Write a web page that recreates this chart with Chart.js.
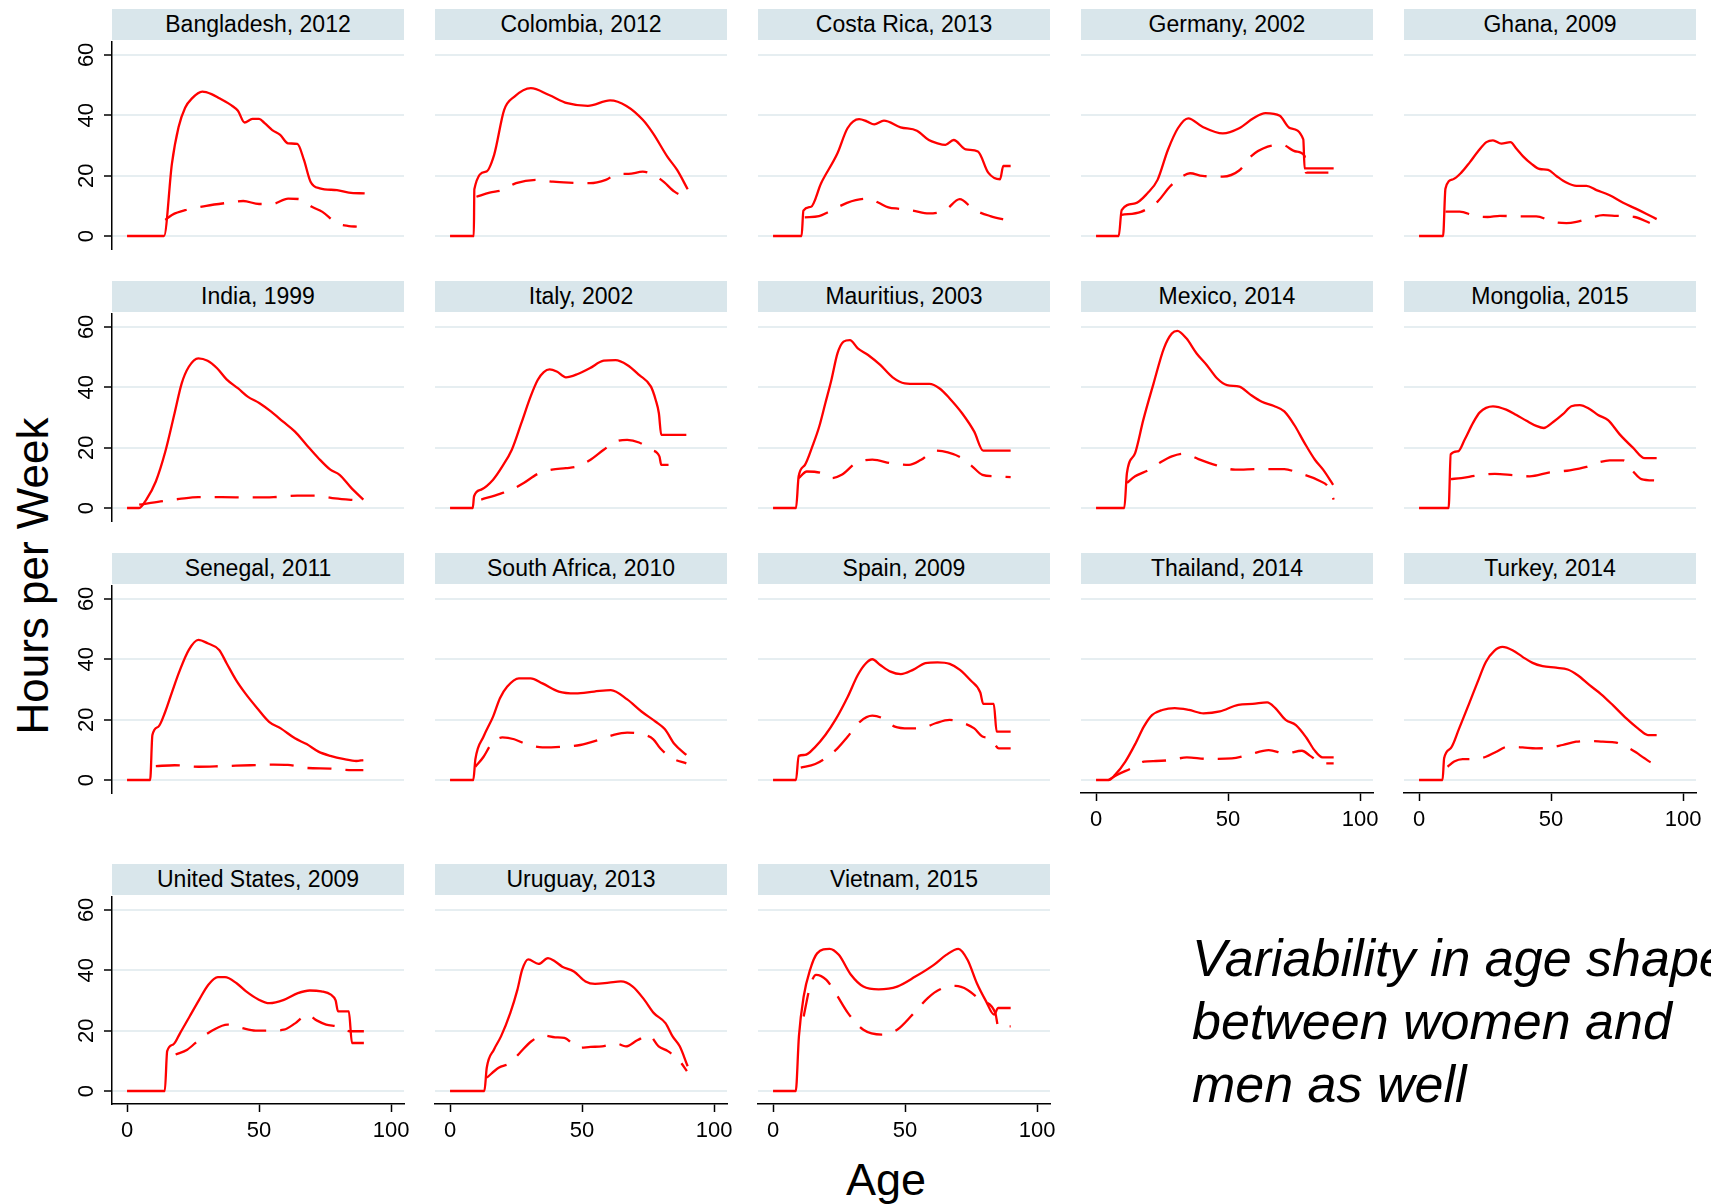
<!DOCTYPE html>
<html>
<head>
<meta charset="utf-8">
<title>Hours per Week by Age</title>
<script src="https://cdn.jsdelivr.net/npm/chart.js@4.4.1/dist/chart.umd.min.js"></script>
<style>
    html, body { margin: 0; padding: 0; background: #fff; }
    body {
        width: 1711px; height: 1204px; position: relative; overflow: hidden;
        font-family: "Liberation Sans", Arial, sans-serif; color: #000;
    }
    .strip {
        position: absolute; height: 31px; line-height: 31px;
        background: #d9e6eb; text-align: center; font-size: 23px; white-space: nowrap;
    }
    canvas { position: absolute; }
    .ytitle {
        position: absolute; left: -167px; top: 554px; width: 400px;
        font-size: 44px; line-height: 44px; text-align: center;
        transform: rotate(-90deg); white-space: nowrap;
    }
    .xtitle {
        position: absolute; left: 786px; top: 1157px; width: 200px;
        font-size: 45px; line-height: 45px; text-align: center;
    }
    .note {
        position: absolute; left: 1192px; top: 927px;
        font-size: 52px; line-height: 63px; font-style: italic; white-space: nowrap;
    }
</style>
</head>
<body>
<div class="ytitle">Hours per Week</div>
<div class="xtitle">Age</div>
<div class="note">Variability in age shape<br>between women and<br>men as well</div>
<script>
// ---- data (ages and hours per week) ----
const TITLES = [
    'Bangladesh, 2012', 'Colombia, 2012', 'Costa Rica, 2013', 'Germany, 2002', 'Ghana, 2009',
    'India, 1999', 'Italy, 2002', 'Mauritius, 2003', 'Mexico, 2014', 'Mongolia, 2015',
    'Senegal, 2011', 'South Africa, 2010', 'Spain, 2009', 'Thailand, 2014', 'Turkey, 2014',
    'United States, 2009', 'Uruguay, 2013', 'Vietnam, 2015'
];
const Y_TICKS = [0, 20, 40, 60];
const X_TICKS = [0, 50, 100];

// solid line = men, dashed line = women
const bangladeshSolidAge = [0, 14, 17, 19.5, 22, 24.5, 28.5, 32, 35, 40, 42, 44.5, 47.5, 50, 52, 55, 58, 61, 64.5, 67, 69.5, 73, 79.5, 84, 90];
const bangladeshSolid = [0, 0, 24, 36, 42.5, 45.5, 47.8, 47, 45.6, 43, 41.5, 37.6, 38.8, 38.8, 37.5, 35.1, 33.5, 30.7, 30.5, 25.2, 18, 15.8, 15.2, 14.4, 14.1];
const bangladeshDashAge = [14.5, 17, 23, 30, 38, 44, 50, 55, 61, 65.5, 70, 74, 79.5, 84, 87];
const bangladeshDash = [5.3, 7, 8.8, 10, 11, 11.6, 10.6, 10.6, 12.4, 12.2, 9.7, 8, 4.2, 3.3, 3.1];

const colombiaSolidAge = [0, 9, 9.2, 13.6, 16.7, 20.5, 24.4, 30.6, 37.5, 44.4, 52.2, 60.6, 66.8, 73, 76.9, 82.3, 86, 90];
const colombiaSolid = [0, 0, 15.5, 21.3, 26.9, 41.8, 46.2, 49, 46.7, 44, 43.1, 44.9, 43.1, 38.5, 34, 26.3, 21.9, 15.5];
const colombiaDashAge = [10, 15, 19.8, 25, 32.9, 39, 45, 53, 59, 63.7, 67.6, 73, 80, 85, 90];
const colombiaDash = [13, 14.4, 15.2, 17.5, 18.6, 18, 17.7, 17.5, 18.6, 20.6, 20.6, 21.3, 18.6, 14.7, 12.5];

const costaRicaSolidAge = [0, 10.8, 11.5, 14.4, 18.2, 24.4, 28.2, 32.6, 35.5, 38.3, 42, 48.3, 54.5, 59, 62, 65.3, 68.4, 73, 77.6, 81.5, 86, 87.2, 90];
const costaRicaSolid = [0, 0, 8.4, 9.7, 17.5, 27.4, 35.7, 38.7, 38, 37, 38.2, 36, 34.9, 31.8, 30.8, 30.2, 31.8, 28.7, 28, 21, 18.8, 23.2, 23.2];
const costaRicaDashAge = [12, 17.4, 21, 24.4, 28, 31.3, 36, 40, 43.7, 48, 53, 59, 65.3, 70.7, 76, 82.3, 89.2];
const costaRicaDash = [6.2, 6.6, 8, 9.5, 11, 11.9, 12.4, 11, 9.5, 9, 8.4, 7.5, 8.6, 12.2, 8.8, 6.6, 5.1];

const germanySolidAge = [0, 8.6, 9.7, 14.8, 19.4, 23.3, 27.2, 31, 34.9, 40.3, 48, 54.2, 59.6, 64.2, 69.6, 73.5, 78.5, 79, 90];
const germanySolid = [0, 0, 8.6, 10.8, 14.1, 18.6, 28.5, 35.7, 39, 36.2, 34, 35.7, 39, 40.7, 39.8, 35.7, 32, 22.4, 22.4];
const germanyDashAge = [9.7, 17, 23.3, 28, 32.6, 35.6, 40.3, 48, 54.2, 58.8, 65, 70.4, 75.8, 79, 79.5, 88];
const germanyDash = [7, 8, 11.4, 16.4, 19.7, 20.8, 19.9, 19.7, 21.7, 26.5, 29.6, 30.2, 28, 26.5, 21, 21];

const ghanaSolidAge = [0, 9.1, 10, 12.9, 16, 19.2, 22.3, 25.5, 28, 31.2, 34.6, 36.9, 39.4, 42.6, 45.7, 48.9, 52, 55.8, 59.6, 63.4, 67.2, 72.2, 77.3, 82.3, 86, 90];
const ghanaSolid = [0, 0, 15.7, 18.8, 21, 24.4, 28, 31.1, 31.7, 30.6, 31.1, 28.9, 26.4, 23.9, 22.2, 21.9, 19.9, 17.7, 16.6, 16.6, 15.2, 13.5, 11, 9, 7.4, 5.6];
const ghanaDashAge = [10, 15.4, 21, 26, 30.6, 36.9, 44.4, 50.8, 55.8, 59.6, 64.6, 69.7, 74.7, 81.7, 87.4];
const ghanaDash = [8.1, 8.1, 6.7, 6.3, 6.7, 6.5, 6.5, 4.7, 4.3, 4.7, 5.9, 6.9, 6.7, 6.3, 4.3];

const indiaSolidAge = [0, 4.6, 7.3, 10.9, 14.5, 18, 20.7, 23.4, 27, 30.5, 34.1, 37.7, 42.1, 45.7, 50.2, 54.6, 59.1, 63.6, 68, 72.5, 77, 80.5, 85, 89.5];
const indiaSolid = [0, 0, 2.8, 8.8, 18.7, 31.4, 41.3, 46.8, 49.6, 48.8, 46.3, 42.6, 39.6, 36.9, 34.7, 31.9, 28.6, 25.3, 20.9, 16.5, 12.7, 11, 6.6, 2.8];
const indiaDashAge = [4.6, 12.7, 19.8, 27, 35.9, 46.6, 55.5, 64.5, 71.6, 78.8, 87.7];
const indiaDash = [1.1, 2.2, 3, 3.6, 3.6, 3.5, 3.6, 4.1, 4.1, 3.2, 2.5];

const italySolidAge = [0, 8.6, 9.1, 11.8, 16.3, 19.8, 23.4, 27, 30.5, 33.2, 35.5, 37.7, 40.4, 43.9, 48.4, 52.9, 58.2, 62.7, 67.1, 71.6, 76.1, 77.9, 79.1, 80, 89.5];
const italySolid = [0, 0, 3.9, 6.1, 9.4, 13.8, 19.3, 28.1, 36.9, 42.4, 45, 45.9, 45.2, 43.3, 44.4, 46.3, 48.8, 49, 47.4, 44.1, 40.2, 35.8, 31.4, 24.2, 24.2];
const italyDashAge = [11.8, 18.9, 23.4, 27.9, 33.2, 38.6, 43.9, 48.4, 52.9, 58.2, 62.7, 67.1, 71.6, 76.1, 79.3, 80, 85.9];
const italyDash = [2.8, 4.7, 6.1, 8.3, 11.3, 12.7, 13.2, 13.8, 15.8, 19.3, 22, 22.6, 21.7, 19.3, 17.1, 14.3, 14.3];

const mauritiusSolidAge = [0, 8.7, 9.7, 12.1, 15.1, 17.5, 19.8, 22.1, 24.4, 26.7, 29.1, 32.1, 36, 40.6, 45.3, 49.9, 54.6, 59.2, 63.1, 66.9, 71.6, 76.2, 79.6, 90];
const mauritiusSolid = [0, 0, 10.5, 14.3, 20.9, 27, 34.7, 42.4, 51.2, 55.1, 55.6, 52.9, 50.7, 47.4, 43.3, 41.3, 41.1, 41.1, 39.6, 36.3, 31.4, 25.3, 19, 19];
const mauritiusDashAge = [9.7, 12.8, 18.2, 22.1, 26, 31.4, 37.6, 45.3, 51.5, 56.1, 61.5, 66.2, 71.6, 75.4, 79.3, 83.9, 90];
const mauritiusDash = [9.9, 12.1, 11.6, 9.9, 11, 14.9, 16, 14.7, 14.3, 16, 19, 18.4, 16.5, 13.8, 11, 10.5, 10.2];

const mexicoSolidAge = [0, 10.7, 11.7, 14.8, 17.9, 21.8, 25.7, 28.7, 30.8, 34.2, 38.1, 41.9, 45.8, 49.6, 54.3, 58.1, 62.8, 67.4, 71.3, 75.1, 79, 82.9, 86, 89.8];
const mexicoSolid = [0, 0, 11.6, 18.2, 29.2, 41.3, 52.9, 57.8, 58.7, 56.2, 51.2, 47.4, 43, 40.7, 40.2, 37.8, 35.2, 33.8, 32, 27.5, 21.5, 16, 12.7, 7.7];
const mexicoDashAge = [11.7, 14.8, 20.2, 24.9, 28.7, 33.4, 38.8, 45, 52.7, 62, 71.3, 76.7, 84.4, 88.3, 90];
const mexicoDash = [8.3, 10.5, 12.7, 15.4, 17.1, 18, 16.2, 14.3, 12.7, 12.9, 12.9, 11.6, 9.1, 6.6, 2.8];

const mongoliaSolidAge = [0, 11.2, 12, 14.8, 17.3, 20.5, 23, 28, 33, 36.9, 40.7, 44.4, 47.2, 50.8, 54.5, 57.7, 60.9, 64.6, 67.8, 71.6, 76, 81, 85.5, 90];
const mongoliaSolid = [0, 0, 17.8, 18.8, 22.7, 28.3, 31.7, 33.7, 32.6, 30.8, 28.9, 27.2, 26.5, 28.5, 31.1, 33.7, 34.1, 32.8, 30.8, 29.1, 24.4, 20, 16.5, 16.5];
const mongoliaDashAge = [12, 16, 21.7, 28.7, 35.6, 41.9, 49.5, 57.1, 63.4, 68.4, 72.2, 77.3, 81, 84.2, 89.9];
const mongoliaDash = [9.6, 9.9, 10.7, 11.3, 10.9, 10.5, 11.8, 12.5, 13.6, 15.2, 15.8, 15.8, 12.2, 9.6, 9.1];

const senegalSolidAge = [0, 8.75, 9.6, 11.8, 14.5, 17.1, 19.8, 23.4, 27, 30.5, 34.9, 37.7, 41.3, 44.8, 49.3, 53.8, 58.2, 63.6, 68, 72.5, 77, 82.3, 86.8, 89.5];
const senegalSolid = [0, 0, 14.9, 17.6, 22.7, 29.3, 35.9, 43.1, 46.4, 45.3, 43.1, 38.7, 33.1, 28.7, 23.8, 19.3, 17.1, 13.8, 11.9, 9.4, 8, 6.9, 6.3, 6.6];
const senegalDashAge = [10.9, 18, 27, 35.9, 46.6, 55.5, 60.9, 68, 77, 84.1, 89.5];
const senegalDash = [4.6, 4.9, 4.4, 4.6, 4.9, 5.1, 5, 4, 3.8, 3.3, 3.3];

const southAfricaSolidAge = [0, 8.8, 9.6, 12.7, 16.3, 18.9, 21.6, 26.1, 30.5, 35, 41.2, 47.5, 54.6, 60.9, 67.1, 72.5, 77.9, 81.4, 85, 89.5];
const southAfricaSolid = [0, 0, 6.9, 14.4, 21, 27.1, 30.9, 33.7, 33.7, 32, 29.3, 28.7, 29.3, 29.8, 26.7, 22.7, 19.3, 16.8, 11.9, 8.3];
const southAfricaDashAge = [9.6, 12.7, 15.4, 19.8, 24.3, 28.8, 35, 42.1, 49.3, 56.4, 61.8, 67.1, 72.5, 77, 79.6, 84.1, 89.5];
const southAfricaDash = [4.4, 7.7, 11.6, 14.1, 13.5, 11.9, 10.8, 11, 11.6, 13.3, 14.9, 15.7, 15.2, 13.5, 10.5, 7.2, 5.5];

const spainSolidAge = [0, 8.7, 9.7, 12.1, 16, 19.8, 23.6, 28.3, 32.1, 35.2, 37.6, 40.6, 44.5, 48.4, 53, 57.7, 62.3, 66.9, 70.8, 74.7, 78.5, 79.6, 83.6, 84.7, 90];
const spainSolid = [0, 0, 8, 8.3, 11, 14.9, 19.9, 27.6, 34.8, 38.7, 40, 38.1, 35.9, 35.1, 36.5, 38.7, 39, 38.5, 36.5, 33.1, 29, 25.2, 25.2, 16, 16];
const spainDashAge = [10.5, 16, 20.6, 24.4, 28.3, 32.9, 37.6, 41.4, 46.1, 51.5, 56.1, 61.5, 66.9, 71.6, 76.2, 79.3, 82.4, 85.5, 90];
const spainDash = [4.1, 5.3, 7.7, 10.5, 14.4, 19.3, 21.3, 20.5, 17.7, 17.1, 17.1, 18.8, 19.9, 19, 17.1, 14.4, 13.7, 10.5, 10.5];

const thailandSolidAge = [0, 4.8, 7.2, 11.1, 15, 18.1, 21.2, 25.1, 29.8, 35.2, 40.7, 46.9, 53.9, 59.3, 64.8, 67.9, 71.8, 75.7, 79.6, 82.7, 85.8, 90];
const thailandSolid = [0, 0, 1.7, 6.1, 12.2, 17.7, 21.5, 23.2, 23.8, 23.2, 22.1, 22.7, 24.9, 25.2, 25.7, 23.8, 19.9, 18.2, 14.1, 9.9, 7.5, 7.5];
const thailandDashAge = [4.8, 7.9, 13.4, 18.1, 22.7, 28.2, 34.4, 42.1, 51.4, 57.6, 65.4, 71.8, 78, 81.1, 85.8, 90];
const thailandDash = [0, 1.7, 3.9, 6.1, 6.3, 6.6, 7.5, 7, 7.2, 8.3, 9.9, 8.8, 9.7, 8, 5.5, 5.5];

const turkeySolidAge = [0, 8.9, 9.5, 12, 15.2, 19, 22.2, 25.3, 28.5, 31.6, 35.4, 39.2, 43, 46.8, 51.9, 56.3, 60.1, 64.6, 69, 73.4, 78.5, 82.9, 86.7, 90];
const turkeySolid = [0, 0, 7.2, 10.5, 17.1, 25.4, 32.5, 39.1, 42.8, 44.1, 43, 40.8, 38.8, 37.7, 37.2, 36.6, 34.7, 31.4, 28.4, 24.8, 20.4, 17.1, 14.9, 14.9];
const turkeyDashAge = [10.8, 13.3, 16.5, 19.6, 25.3, 29.1, 33.5, 39.2, 44.3, 48.7, 54.4, 59.5, 64.6, 69.6, 74.7, 78.5, 82.3, 85.4, 88.6, 90];
const turkeyDash = [4.4, 6.1, 6.9, 6.9, 7.7, 9.3, 11, 10.8, 10.5, 10.6, 11.6, 12.7, 12.9, 12.7, 12.4, 11, 9.1, 7.2, 5.7, 6];

const usSolidAge = [0, 14.3, 15.2, 17.5, 20.1, 23.7, 27.3, 30.8, 34.4, 37.1, 41.5, 45.1, 49.6, 54, 59.4, 64.7, 69.2, 73.6, 77.2, 79, 79.9, 84, 85.2, 89.7];
const usSolid = [0, 0, 13.2, 15.4, 19.2, 24.7, 30.2, 35.2, 37.7, 37.7, 35.7, 33, 30.4, 29.1, 30.2, 32.4, 33.3, 33, 31.9, 30, 26.4, 26.4, 15.9, 15.9];
const usDashAge = [18.4, 22.8, 27.3, 32.6, 38, 43.3, 48.7, 54, 59.4, 63.8, 68.3, 71.8, 75.4, 79.9, 84.3, 89.7];
const usDash = [12.1, 13.7, 17, 20.2, 22, 20.9, 20, 20, 20.3, 22.5, 25.3, 23.4, 22, 21.4, 19.8, 19.8];

const uruguaySolidAge = [0, 13, 13.9, 16.6, 19.3, 22.8, 25.5, 27.3, 29.6, 33.5, 37.1, 39.8, 42.5, 46.9, 51.3, 54.9, 60.2, 64.7, 69.2, 73.6, 77.2, 81.6, 84.3, 87, 90];
const uruguaySolid = [0, 0, 7.7, 13.7, 18.1, 25.8, 33.5, 40.1, 43.6, 42.1, 44, 42.9, 41.2, 39.6, 36.3, 35.5, 35.9, 36.3, 34.6, 30.2, 25.8, 22.5, 18.1, 14.8, 8.2];
const uruguayDashAge = [13.9, 18.4, 22.8, 26.4, 30.8, 35.3, 39.8, 43.3, 48.7, 53.2, 57.6, 63, 66.6, 70.9, 75.4, 79, 82.5, 87, 89.7];
const uruguayDash = [4.4, 7.7, 9.3, 12.6, 16.5, 18.4, 17.8, 17.6, 14.3, 14.6, 14.8, 15.7, 14.8, 16.8, 18.4, 14.8, 13.2, 9.9, 6.6];

const vietnamSolidAge = [0, 8.6, 9.8, 11.6, 14, 16.7, 21.4, 24.9, 29.5, 34.2, 40, 47, 53.9, 60.9, 65.6, 70.2, 73.7, 77.2, 80.7, 83.7, 85.3, 90];
const vietnamSolid = [0, 0, 18.1, 31.3, 40.1, 45.6, 47.1, 45.1, 38.5, 34.6, 33.7, 34.6, 37.9, 41.8, 45.1, 47.1, 43.4, 35.7, 29.7, 25.3, 27.5, 27.5];
const vietnamDashAge = [11.6, 14, 16.3, 20.2, 23.7, 28.4, 34.2, 41.2, 47, 52.8, 58.6, 63.3, 69.1, 73.7, 78.4, 84.2, 85.3, 90];
const vietnamDash = [24.7, 34.6, 38.5, 36.8, 32.4, 25.8, 20.3, 18.7, 20.3, 25.3, 30.8, 33.7, 34.8, 33.5, 30.2, 25.8, 21.4, 21.4];

// same order as TITLES
const SERIES = [
    [bangladeshSolidAge, bangladeshSolid, bangladeshDashAge, bangladeshDash],
    [colombiaSolidAge, colombiaSolid, colombiaDashAge, colombiaDash],
    [costaRicaSolidAge, costaRicaSolid, costaRicaDashAge, costaRicaDash],
    [germanySolidAge, germanySolid, germanyDashAge, germanyDash],
    [ghanaSolidAge, ghanaSolid, ghanaDashAge, ghanaDash],
    [indiaSolidAge, indiaSolid, indiaDashAge, indiaDash],
    [italySolidAge, italySolid, italyDashAge, italyDash],
    [mauritiusSolidAge, mauritiusSolid, mauritiusDashAge, mauritiusDash],
    [mexicoSolidAge, mexicoSolid, mexicoDashAge, mexicoDash],
    [mongoliaSolidAge, mongoliaSolid, mongoliaDashAge, mongoliaDash],
    [senegalSolidAge, senegalSolid, senegalDashAge, senegalDash],
    [southAfricaSolidAge, southAfricaSolid, southAfricaDashAge, southAfricaDash],
    [spainSolidAge, spainSolid, spainDashAge, spainDash],
    [thailandSolidAge, thailandSolid, thailandDashAge, thailandDash],
    [turkeySolidAge, turkeySolid, turkeyDashAge, turkeyDash],
    [usSolidAge, usSolid, usDashAge, usDash],
    [uruguaySolidAge, uruguaySolid, uruguayDashAge, uruguayDash],
    [vietnamSolidAge, vietnamSolid, vietnamDashAge, vietnamDash]
];

// ---- layout ----
const COL_X = [112, 435, 758, 1081, 1404];   // left edge of each plot region
const ROW_Y = [41, 313, 585, 896];           // top edge of each plot region
const PLOT_W = 292;
const PLOT_H = 208;
const AXIS_W = 50;     // room for y ticks on the left
const AXIS_H = 45;     // room for x ticks below
const RIGHT_PAD = 22;
const RED = '#ff0000';
const TICK_FONT = { family: '"Liberation Sans", Arial, sans-serif', size: 22 };

const toPoints = (ages, vals) => ages.map((a, i) => ({ x: a, y: vals[i] }));

TITLES.forEach((title, i) => {
    const col = i % 5;
    const row = Math.floor(i / 5);
    const left = COL_X[col];
    const top = ROW_Y[row];
    const hasY = col === 0;
    // x axis only under the last panel of each column
    const hasX = i + 5 >= TITLES.length;

    const strip = document.createElement('div');
    strip.className = 'strip';
    strip.style.left = left + 'px';
    strip.style.top = (top - 32) + 'px';
    strip.style.width = PLOT_W + 'px';
    strip.textContent = title;
    document.body.appendChild(strip);

    const canvas = document.createElement('canvas');
    const cw = AXIS_W + PLOT_W + RIGHT_PAD;
    const ch = PLOT_H + AXIS_H;
    canvas.width = cw;
    canvas.height = ch;
    canvas.style.left = (left - AXIS_W) + 'px';
    canvas.style.top = top + 'px';
    canvas.style.width = cw + 'px';
    canvas.style.height = ch + 'px';
    document.body.appendChild(canvas);

    const [sAge, sVal, dAge, dVal] = SERIES[i];

    new Chart(canvas, {
        type: 'line',
        data: {
            datasets: [
                {
                    label: 'Men',
                    data: toPoints(sAge, sVal),
                    borderColor: RED,
                    borderWidth: 2.3,
                    pointRadius: 0,
                    cubicInterpolationMode: 'monotone'
                },
                {
                    label: 'Women',
                    data: toPoints(dAge, dVal),
                    borderColor: RED,
                    borderWidth: 2.3,
                    borderDash: [24, 14],
                    pointRadius: 0,
                    cubicInterpolationMode: 'monotone'
                }
            ]
        },
        options: {
            responsive: false,
            animation: false,
            devicePixelRatio: 1,
            events: [],
            layout: { padding: { left: 0, top: 0, right: RIGHT_PAD, bottom: 0 }, autoPadding: false },
            plugins: { legend: { display: false }, tooltip: { enabled: false } },
            scales: {
                x: {
                    type: 'linear',
                    min: -5.7,
                    max: 104.9,
                    afterBuildTicks: s => { s.ticks = X_TICKS.map(v => ({ value: v })); },
                    afterFit: s => { s.height = AXIS_H; s.paddingLeft = 0; s.paddingRight = 0; },
                    grid: { display: hasX, drawOnChartArea: false, drawTicks: hasX, tickLength: 8, tickColor: '#000', tickWidth: 1.5 },
                    border: { display: hasX, color: '#000', width: 1.5 },
                    ticks: { display: hasX, font: TICK_FONT, color: '#000', padding: 6, maxRotation: 0 }
                },
                y: {
                    type: 'linear',
                    min: -4.3,
                    max: 64.6,
                    afterBuildTicks: s => { s.ticks = Y_TICKS.map(v => ({ value: v })); },
                    afterFit: s => { s.width = AXIS_W; s.paddingTop = 0; s.paddingBottom = 0; },
                    grid: { color: '#e6eef1', lineWidth: 2, drawTicks: hasY, tickLength: 8, tickColor: '#000', tickWidth: 1.5 },
                    border: { display: hasY, color: '#000', width: 1.5 },
                    ticks: { display: hasY, font: TICK_FONT, color: '#000', padding: 5, minRotation: 90, maxRotation: 90, crossAlign: 'center' }
                }
            }
        }
    });
});
</script>
</body>
</html>
